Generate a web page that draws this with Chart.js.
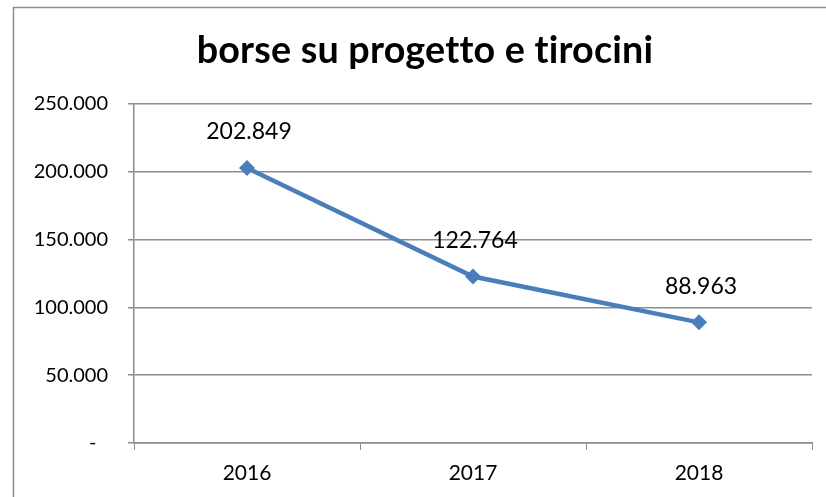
<!DOCTYPE html>
<html>
<head>
<meta charset="utf-8">
<script src="https://cdn.jsdelivr.net/npm/chart.js@4/dist/chart.umd.min.js"></script>
<style>
html,body{margin:0;padding:0;background:#fff;}
#wrap{width:826px;height:497px;position:relative;}
</style>
</head>
<body>
<div id="wrap"><canvas id="c" width="826" height="497"></canvas></div>
<script>
const titleText = "borse su progetto e tirocini";
const categories = ["2016", "2017", "2018"];
const values = [202849, 122764, 88963];
const yTickValues = [0, 50000, 100000, 150000, 200000, 250000];

const FONT = "Lato, 'Open Sans', sans-serif";
function fmt(v){
  if (v === 0) return "-\u2007";
  return Math.round(v).toString().replace(/\B(?=(\d{3})+(?!\d))/g, ".");
}

const framePlugin = {
  id: 'frame',
  beforeDraw(chart){
    const ctx = chart.ctx;
    ctx.save();
    ctx.fillStyle = '#fff';
    ctx.fillRect(0,0,chart.width,chart.height);
    ctx.strokeStyle = '#8c8c8c';
    ctx.lineWidth = 1.5;
    ctx.strokeRect(13.5, 7.5, 900, 600);
    ctx.restore();
  },
  afterDraw(chart){
    const ctx = chart.ctx;
    ctx.save();
    ctx.fillStyle = '#000';
    try { ctx.letterSpacing = '0.2px'; } catch(e) {}
    ctx.font = "bold 32px " + FONT;
    let w = ctx.measureText(titleText).width;
    let size = 32 * 458 / w;
    ctx.font = "bold " + size.toFixed(1) + "px " + FONT;
    ctx.textAlign = 'center';
    ctx.textBaseline = 'alphabetic';
    ctx.fillText(titleText, 425, 63);
    try { ctx.letterSpacing = '0px'; } catch(e) {}
    const meta = chart.getDatasetMeta(0);
    ctx.font = "23px " + FONT;
    ctx.textBaseline = 'middle';
    meta.data.forEach((pt, i) => {
      ctx.fillText(fmt(values[i]), pt.x + 2, pt.y - 36);
    });
    ctx.restore();
  }
};

new Chart(document.getElementById('c'), {
  type: 'line',
  data: {
    labels: categories,
    datasets: [{
      data: values,
      borderColor: '#4a7ebb',
      backgroundColor: '#4a7ebb',
      borderWidth: 4.5,
      pointStyle: 'rectRot',
      pointRadius: 8,
      pointHoverRadius: 8,
      pointBorderWidth: 0,
      tension: 0
    }]
  },
  options: {
    responsive: false,
    animation: false,
    events: [],
    layout: { padding: { left: 14, right: 14, top: 104, bottom: 0 } },
    plugins: { legend: { display: false }, tooltip: { enabled: false }, title: { display: false } },
    scales: {
      x: {
        offset: true,
        grid: { display: true, offset: true, drawOnChartArea: false, drawTicks: true, tickLength: 7, color: '#8c8c8c', lineWidth: 1 },
        border: { display: true, color: '#8c8c8c', width: 1.5 },
        ticks: { color: '#000', font: { family: FONT, size: 21 }, padding: 11 },
        afterFit(s){ s.height = 54; }
      },
      y: {
        min: 0, max: 250000,
        afterBuildTicks(s){ s.ticks = yTickValues.map(v => ({ value: v })); },
        grid: { color: '#8c8c8c', lineWidth: 1.5, drawTicks: true, tickLength: 6 },
        border: { display: true, color: '#8c8c8c', width: 1.5 },
        ticks: { color: '#000', font: { family: FONT, size: 20 }, padding: 20, callback: v => fmt(v) },
        afterFit(s){ s.width = 120; }
      }
    }
  },
  plugins: [framePlugin]
});
</script>
</body>
</html>
